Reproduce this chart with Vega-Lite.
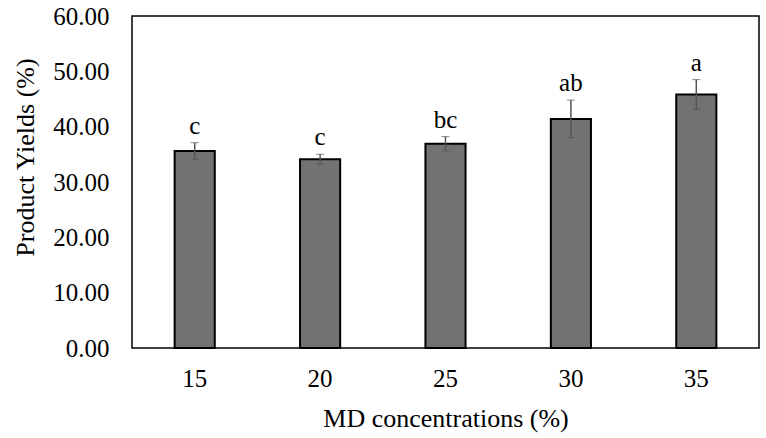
{
  "$schema": "https://vega.github.io/schema/vega-lite/v6.json",
  "width": 627,
  "height": 332,
  "autosize": "none",
  "padding": {"left": 132, "top": 16, "right": 7, "bottom": 90},
  "background": "white",
  "config": {
    "font": "Liberation Serif",
    "view": {"stroke": "black", "strokeWidth": 1.5},
    "axis": {"grid": false, "ticks": false, "domain": false, "labelColor": "black", "titleColor": "black", "titleFontWeight": "normal", "labelFont": "Liberation Serif", "titleFont": "Liberation Serif"}
  },
  "data": {
    "values": [
      {"conc": "15", "yield": 35.6, "err": 1.5, "letter": "c"},
      {"conc": "20", "yield": 34.1, "err": 0.9, "letter": "c"},
      {"conc": "25", "yield": 36.9, "err": 1.3, "letter": "bc"},
      {"conc": "30", "yield": 41.4, "err": 3.4, "letter": "ab"},
      {"conc": "35", "yield": 45.8, "err": 2.7, "letter": "a"}
    ]
  },
  "encoding": {
    "x": {
      "field": "conc", "type": "ordinal",
      "scale": {"paddingInner": 0.68, "paddingOuter": 0.34},
      "axis": {"title": "MD concentrations (%)", "labelAngle": 0, "labelFontSize": 25, "titleFontSize": 26, "labelPadding": 18, "titlePadding": 14}
    }
  },
  "layer": [
    {
      "mark": {"type": "bar", "fill": "#727272", "stroke": "black", "strokeWidth": 2},
      "encoding": {
        "y": {
          "field": "yield", "type": "quantitative", "title": "Product Yields (%)",
          "scale": {"domain": [0, 60]},
          "axis": {"format": ".2f", "values": [0, 10, 20, 30, 40, 50, 60], "labelFontSize": 25, "titleFontSize": 26, "labelPadding": 23, "titlePadding": 14, "titleY": 141}
        }
      }
    },
    {
      "transform": [
        {"calculate": "datum.yield - datum.err", "as": "lo"},
        {"calculate": "datum.yield + datum.err", "as": "hi"}
      ],
      "layer": [
        {
          "mark": {"type": "errorbar", "ticks": {"size": 8, "color": "#555555"}, "rule": {"color": "#555555", "strokeWidth": 1.5}},
          "encoding": {
            "y": {"field": "lo", "type": "quantitative", "title": "Product Yields (%)"},
            "y2": {"field": "hi"}
          }
        },
        {
          "mark": {"type": "text", "fontSize": 25, "dy": -9, "baseline": "alphabetic", "color": "black"},
          "encoding": {
            "y": {"field": "hi", "type": "quantitative", "title": "Product Yields (%)"},
            "text": {"field": "letter"}
          }
        }
      ]
    }
  ]
}
